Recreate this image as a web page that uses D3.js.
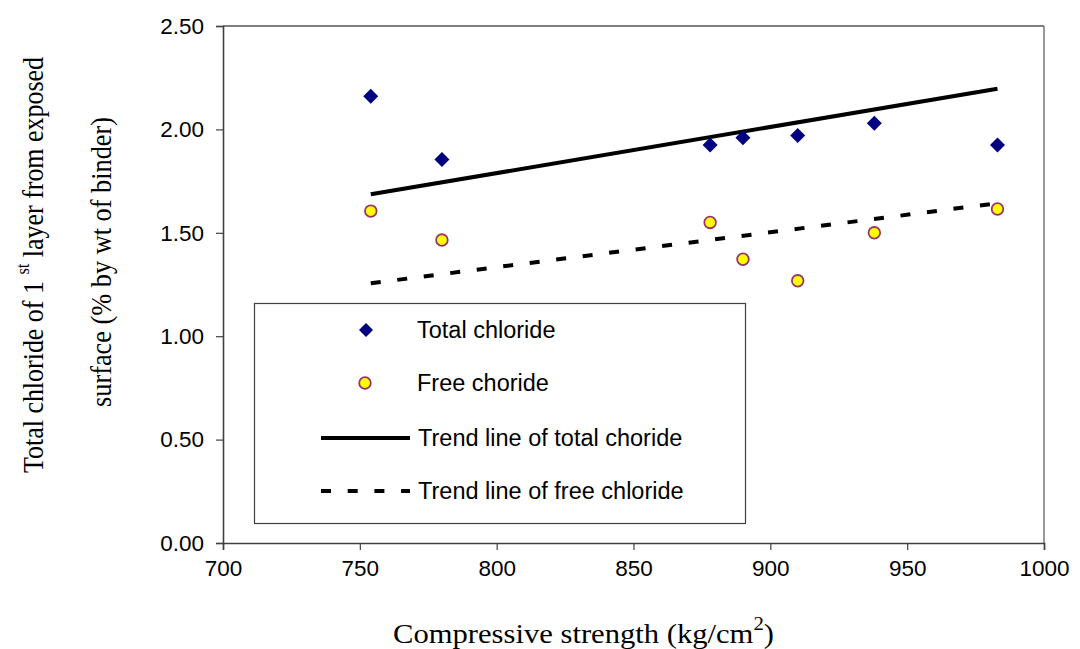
<!DOCTYPE html>
<html><head><meta charset="utf-8">
<script src="https://cdn.jsdelivr.net/npm/d3@7"></script>
<style>body{margin:0;background:#fff}svg{display:block}</style>
</head><body>
<svg id="c" width="1080" height="649"></svg>
<script>
// Data
const strength = [754, 780, 878, 890, 910, 938, 983];
const totalChloride = [2.16, 1.855, 1.925, 1.96, 1.97, 2.03, 1.925];
const freeChloride = [1.605, 1.465, 1.55, 1.372, 1.268, 1.50, 1.615];
const trendX = [754, 983];
const trendTotal = [1.686, 2.197];
const trendFree = [1.256, 1.643];
const xTicks = [700, 750, 800, 850, 900, 950, 1000];
const yTicks = [0, 0.5, 1.0, 1.5, 2.0, 2.5];
const legendLabels = ["Total chloride", "Free choride", "Trend line of total choride", "Trend line of free chloride"];

const svg = d3.select("#c");
const L = 223, R = 1044, T = 26, B = 543;
const x = d3.scaleLinear().domain([700, 1000]).range([L, R]);
const y = d3.scaleLinear().domain([0, 2.5]).range([B, T]);

// frame top/right
svg.append("line").attr("x1", L).attr("x2", R).attr("y1", T).attr("y2", T).attr("stroke", "#000").attr("stroke-width", 1);
svg.append("line").attr("x1", R).attr("x2", R).attr("y1", T).attr("y2", B).attr("stroke", "#555").attr("stroke-width", 1.2);

// axes
const ya = svg.append("g").attr("transform", `translate(${L},0)`)
  .call(d3.axisLeft(y).tickValues(yTicks).tickFormat(d3.format(".2f")).tickSize(7).tickPadding(12));
const xa = svg.append("g").attr("transform", `translate(0,${B})`)
  .call(d3.axisBottom(x).tickValues(xTicks).tickFormat(d3.format("d")).tickSize(7).tickPadding(9));
[ya, xa].forEach(g => {
  g.select(".domain").attr("stroke", "#404040").attr("stroke-width", 1.6);
  g.selectAll(".tick line").attr("stroke", "#404040").attr("stroke-width", 1.2);
  g.selectAll("text").attr("font-family", "Liberation Sans, Arial, sans-serif").attr("font-size", 22.5).attr("fill", "#000");
});
xa.selectAll("text").attr("dy", "0.75em");

// trend lines
const line = d3.line().x(d => x(d[0])).y(d => y(d[1]));
svg.append("path").datum(trendX.map((v, i) => [v, trendTotal[i]]))
  .attr("d", line).attr("stroke", "#000").attr("stroke-width", 4).attr("fill", "none");
svg.append("path").datum(trendX.map((v, i) => [v, trendFree[i]]))
  .attr("d", line).attr("stroke", "#000").attr("stroke-width", 4).attr("fill", "none")
  .attr("stroke-dasharray", "10,16.7");

// markers
const diamond = (cx, cy, s) => `M${cx},${cy - s}L${cx + s},${cy}L${cx},${cy + s}L${cx - s},${cy}Z`;
svg.append("g").selectAll("path").data(strength).join("path")
  .attr("d", (d, i) => diamond(x(d), y(totalChloride[i]), 7.5)).attr("fill", "#000080");
svg.append("g").selectAll("circle").data(strength).join("circle")
  .attr("cx", d => x(d)).attr("cy", (d, i) => y(freeChloride[i])).attr("r", 5.8)
  .attr("fill", "#ffff00").attr("stroke", "#993366").attr("stroke-width", 1.8);

// legend
const lg = svg.append("g");
lg.append("rect").attr("x", 254.5).attr("y", 303.5).attr("width", 491).attr("height", 220)
  .attr("fill", "#fff").attr("stroke", "#404040").attr("stroke-width", 1.2);
const rows = [330, 383, 438, 491];
lg.append("path").attr("d", diamond(366, rows[0], 7)).attr("fill", "#000080");
lg.append("circle").attr("cx", 365).attr("cy", rows[1]).attr("r", 5.8).attr("fill", "#ffff00").attr("stroke", "#993366").attr("stroke-width", 1.8);
lg.append("line").attr("x1", 321).attr("x2", 410).attr("y1", rows[2]).attr("y2", rows[2]).attr("stroke", "#000").attr("stroke-width", 4);
lg.append("line").attr("x1", 321).attr("x2", 410).attr("y1", rows[3]).attr("y2", rows[3]).attr("stroke", "#000").attr("stroke-width", 4).attr("stroke-dasharray", "10,16.7");
lg.selectAll("text.l").data(legendLabels).join("text").attr("class", "l")
  .attr("x", (d, i) => i < 2 ? 417 : 418).attr("y", (d, i) => rows[i]).attr("dy", "0.36em")
  .attr("font-family", "Liberation Sans, Arial, sans-serif").attr("font-size", 23.5).attr("fill", "#000")
  .text(d => d);

// axis titles
const serif = "Liberation Serif, Times New Roman, serif";
const xt = svg.append("text").attr("x", 393).attr("y", 643)
  .attr("font-family", serif).attr("font-size", 28).attr("fill", "#000")
  .attr("textLength", 381).attr("lengthAdjust", "spacingAndGlyphs");
xt.append("tspan").text("Compressive strength (kg/cm");
xt.append("tspan").attr("dy", -13).attr("font-size", 19).text("2");
xt.append("tspan").attr("dy", 13).text(")");

const yt = svg.append("text").attr("transform", "translate(43,473) rotate(-90)")
  .attr("font-family", serif).attr("font-size", 30).attr("fill", "#000")
  .attr("textLength", 416).attr("lengthAdjust", "spacingAndGlyphs");
yt.append("tspan").text("Total chloride of 1 ");
yt.append("tspan").attr("dy", -14).attr("font-size", 19).text("st");
yt.append("tspan").attr("dy", 14).text("  layer from exposed");
svg.append("text").attr("transform", "translate(111,407) rotate(-90)")
  .attr("font-family", serif).attr("font-size", 30).attr("fill", "#000")
  .attr("textLength", 290).attr("lengthAdjust", "spacingAndGlyphs")
  .text("surface (% by wt of binder)");
</script>
</body></html>
